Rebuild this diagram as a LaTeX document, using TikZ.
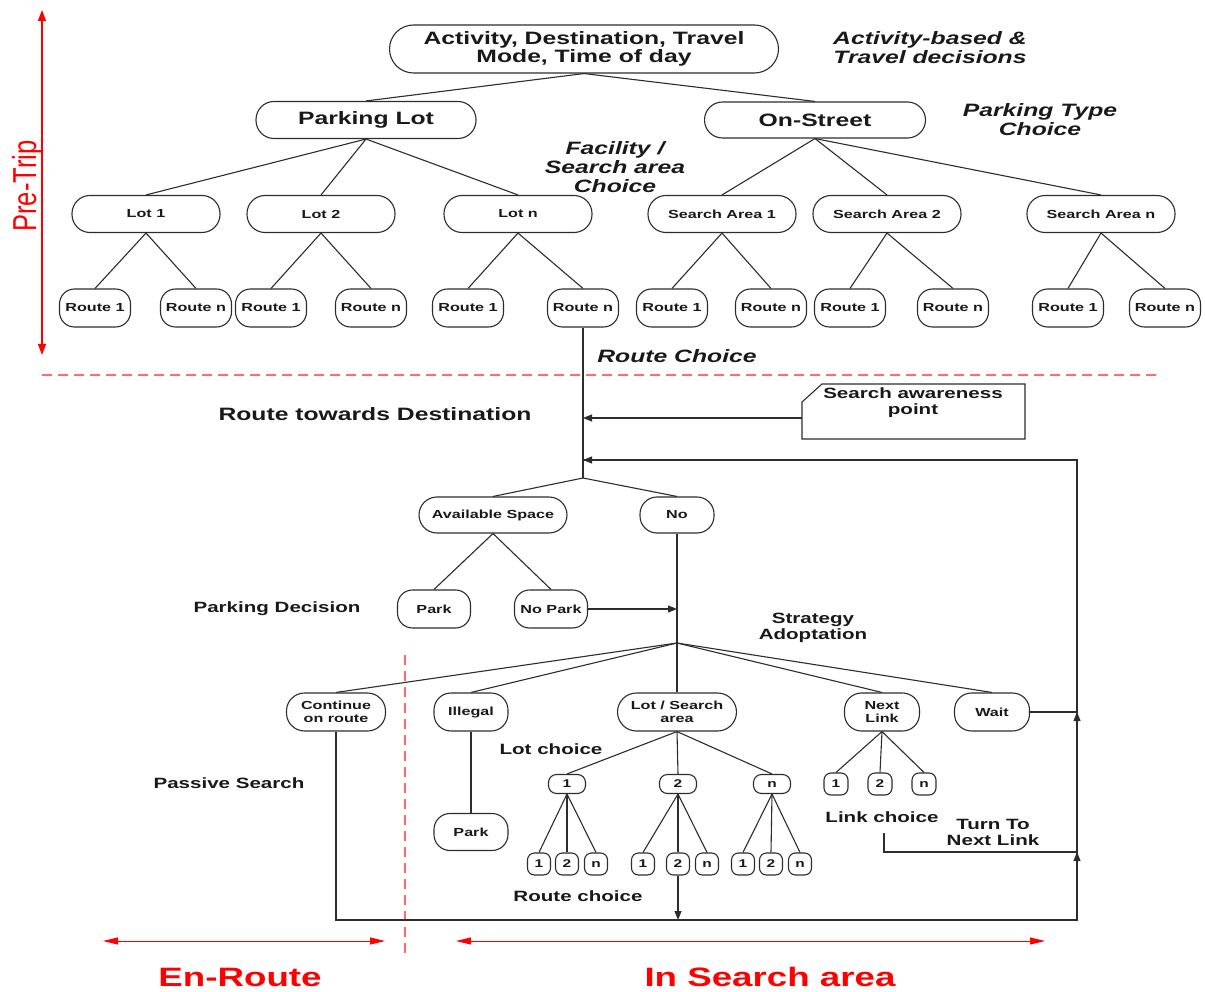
\documentclass[tikz,border=0pt]{standalone}
\usepackage{fontspec}
\setmainfont{Liberation Sans}[FakeStretch=1.38]
\newfontfamily\plainsans{Liberation Sans}
\usetikzlibrary{arrows.meta,calc}
\definecolor{lc}{RGB}{45,45,45}
\definecolor{tc}{RGB}{25,25,25}
\definecolor{rd}{RGB}{255,105,105}
\tikzset{
  nd/.style={draw=lc, line width=1.1pt, align=center, inner sep=1pt, text=tc},
  big/.style={font=\fontsize{17.9}{18.5}\selectfont\bfseries},
  med/.style={font=\fontsize{14.9}{16}\selectfont\bfseries},
  sml/.style={font=\fontsize{11.7}{13}\selectfont\bfseries},
  tny/.style={font=\fontsize{11.2}{12}\selectfont\bfseries},
  itl/.style={font=\fontsize{17.9}{19}\selectfont\bfseries\itshape},
  lab/.style={align=center, text=tc, inner sep=0pt},
  sz/.style n args={3}{minimum width=#1, minimum height=#2, rounded corners=#3},
  lotsz/.style={sz={148pt}{37pt}{18pt}},
  rtsz/.style={sz={71pt}{38pt}{15pt}},
  csz/.style={sz={37pt}{19pt}{8pt}},
  rsz/.style={sz={23pt}{22pt}{7pt}},
  ln/.style={draw=lc, line width=1.1pt},
  arr/.style={ln, -{Triangle[length=9pt,width=7pt]}},
  rarr/.style={draw=red, line width=1pt, {Triangle[length=15pt,width=7pt]}-{Triangle[length=15pt,width=7pt]}},
  parr/.style={draw=red, line width=1.2pt, {Triangle[length=11pt,width=8pt]}-{Triangle[length=11pt,width=8pt]}},
  rdash/.style={draw=rd, line width=1.5pt, dash pattern=on 10pt off 6pt},
  redt/.style={text=red, inner sep=0pt, font=\fontsize{26.6}{28}\selectfont\bfseries}
}
\begin{document}
\begin{tikzpicture}[x=1pt,y=-1pt]
\fill[white] (0,0) rectangle (1205,992);
\useasboundingbox (0,0) rectangle (1205,992);

% ---------- Pre-trip part ----------
\node[nd,big,sz={389pt}{48pt}{24pt}] (top) at (584,49) {Activity, Destination, Travel\\Mode, Time of day};
\node[lab,itl] (lab1) at (930,48) {Activity-based \&\\Travel decisions};
\node[nd,big,sz={220pt}{37pt}{18pt}] (plot) at (366,120) {Parking Lot};
\node[nd,big,sz={221pt}{36pt}{18pt}] (ostr) at (815,120) {On-Street};
\node[lab,itl] (lab2) at (1040,120) {Parking Type\\Choice};
\node[lab,itl] (lab3) at (615,167) {Facility /\\Search area\\Choice};

\node[nd,sml,lotsz] (l1) at (146,214) {Lot 1};
\node[nd,sml,lotsz] (l2) at (321,214) {Lot 2};
\node[nd,sml,lotsz] (ln) at (518,214) {Lot n};
\node[nd,sml,lotsz] (s1) at (722,214) {Search Area 1};
\node[nd,sml,lotsz] (s2) at (887,214) {Search Area 2};
\node[nd,sml,lotsz] (sn) at (1101,214) {Search Area n};

\node[nd,sml,rtsz] (r11) at (95,308) {Route 1};
\node[nd,sml,rtsz] (r1n) at (196,308) {Route n};
\node[nd,sml,rtsz] (r21) at (271,308) {Route 1};
\node[nd,sml,rtsz] (r2n) at (371,308) {Route n};
\node[nd,sml,rtsz] (rn1) at (468,308) {Route 1};
\node[nd,sml,rtsz] (rnn) at (583,308) {Route n};
\node[nd,sml,rtsz] (s11) at (672,308) {Route 1};
\node[nd,sml,rtsz] (s1n) at (771,308) {Route n};
\node[nd,sml,rtsz] (s21) at (850,308) {Route 1};
\node[nd,sml,rtsz] (s2n) at (953,308) {Route n};
\node[nd,sml,rtsz] (sn1) at (1068,308) {Route 1};
\node[nd,sml,rtsz] (snn) at (1165,308) {Route n};
\node[lab,itl] (lab4) at (677,356) {Route Choice};

\draw[ln] (top.south) -- (plot.north);
\draw[ln] (top.south) -- (ostr.north);
\foreach \c in {l1,l2,ln} \draw[ln] (plot.south) -- (\c.north);
\foreach \c in {s1,s2,sn} \draw[ln] (ostr.south) -- (\c.north);
\draw[ln] (l1.south) -- (r11.north); \draw[ln] (l1.south) -- (r1n.north);
\draw[ln] (l2.south) -- (r21.north); \draw[ln] (l2.south) -- (r2n.north);
\draw[ln] (ln.south) -- (rn1.north); \draw[ln] (ln.south) -- (rnn.north);
\draw[ln] (s1.south) -- (s11.north); \draw[ln] (s1.south) -- (s1n.north);
\draw[ln] (s2.south) -- (s21.north); \draw[ln] (s2.south) -- (s2n.north);
\draw[ln] (sn.south) -- (sn1.north); \draw[ln] (sn.south) -- (snn.north);

% ---------- red markers ----------
\coordinate (pt1) at (42,10); \coordinate (pt2) at (42,355);
\draw[parr] (pt1) -- (pt2);
\node[text=red, inner sep=0pt] (pre) at (27.5,186) {\rotatebox{90}{\scalebox{1}[1.3]{\plainsans\fontsize{25.5}{26}\selectfont Pre-Trip}}};
\coordinate (dh1) at (42,375); \coordinate (dh2) at (1160,375);
\draw[rdash] (dh1) -- (dh2);
\coordinate (dv1) at (405,655); \coordinate (dv2) at (405,958);
\draw[rdash] (dv1) -- (dv2);
\coordinate (e1) at (103,941); \coordinate (e2) at (385,941);
\draw[rarr] (e1) -- (e2);
\coordinate (i1) at (456,941); \coordinate (i2) at (1045,941);
\draw[rarr] (i1) -- (i2);
\node[redt] (enr) at (240,977) {En-Route};
\node[redt] (isa) at (770,977) {In Search area};

% ---------- en-route part ----------
\node[lab,big] (lab5) at (375,414) {Route towards Destination};
\node[lab,med] (saptxt) at (913,403) {Search awareness\\point};
\draw[ln] (802,402) -- (822,384) -- (1025,384) -- (1025,439) -- (802,439) -- cycle;
\coordinate (sapL) at (802,418);
\coordinate (a1) at (583,418);
\coordinate (a2) at (583,460);
\coordinate (j1) at (583,478);
\draw[ln] (rnn.south) -- (j1);
\draw[arr] (sapL) -- (a1);

\node[nd,sml,sz={148pt}{36pt}{18pt}] (avs) at (493,515) {Available Space};
\node[nd,sml,sz={74pt}{36pt}{17pt}] (no) at (677,515) {No};
\draw[ln] (j1) -- (avs.north);
\draw[ln] (j1) -- (no.north);
\node[nd,sml,sz={73pt}{38pt}{15pt}] (park1) at (434,609) {Park};
\node[nd,sml,sz={73pt}{38pt}{15pt}] (nopark) at (551,609) {No Park};
\draw[ln] (avs.south) -- (park1.north);
\draw[ln] (avs.south) -- (nopark.north);
\node[lab,med] (lab6) at (277,609) {Parking Decision};
\coordinate (np1) at (677,609);
\coordinate (j2) at (677,643);
\draw[ln] (no.south) -- (j2);
\draw[arr] (nopark.east) -- (np1);
\node[lab,med] (lab7) at (813,628) {Strategy\\Adoptation};

\node[nd,sml,sz={99pt}{38pt}{18pt}] (cont) at (336,712) {Continue\\on route};
\node[nd,sml,sz={74pt}{38pt}{17pt}] (ill) at (471,712) {Illegal};
\node[nd,sml,sz={119pt}{38pt}{19pt}] (lsa) at (677,712) {Lot / Search\\area};
\node[nd,sml,sz={75pt}{38pt}{17pt}] (nl) at (882,712) {Next\\Link};
\node[nd,sml,sz={75pt}{38pt}{17pt}] (wait) at (992,712) {Wait};
\foreach \c in {cont,ill,lsa,nl,wait} \draw[ln] (j2) -- (\c.north);

\node[nd,sml,sz={74pt}{37pt}{16pt}] (park2) at (471,832) {Park};
\draw[ln] (ill.south) -- (park2.north);
\node[lab,med] (lab8) at (229,783) {Passive Search};
\node[lab,med] (lab9) at (551,749) {Lot choice};

\node[nd,tny,csz] (c1) at (567,784) {1};
\node[nd,tny,csz] (c2) at (678,784) {2};
\node[nd,tny,csz] (cn) at (772,784) {n};
\foreach \c in {c1,c2,cn} \draw[ln] (lsa.south) -- (\c.north);

\node[nd,tny,rsz] (c11) at (539,864) {1};
\node[nd,tny,rsz] (c12) at (567,864) {2};
\node[nd,tny,rsz] (c1n) at (596,864) {n};
\node[nd,tny,rsz] (c21) at (643,864) {1};
\node[nd,tny,rsz] (c22) at (678,864) {2};
\node[nd,tny,rsz] (c2n) at (707,864) {n};
\node[nd,tny,rsz] (cn1) at (743,864) {1};
\node[nd,tny,rsz] (cn2) at (771,864) {2};
\node[nd,tny,rsz] (cnn) at (800,864) {n};
\foreach \c in {c11,c12,c1n} \draw[ln] (c1.south) -- (\c.north);
\foreach \c in {c21,c22,c2n} \draw[ln] (c2.south) -- (\c.north);
\foreach \c in {cn1,cn2,cnn} \draw[ln] (cn.south) -- (\c.north);
\node[lab,med] (lab10) at (578,896) {Route choice};

\node[nd,tny,rsz,minimum width=24pt] (k1) at (836,784) {1};
\node[nd,tny,rsz,minimum width=24pt] (k2) at (880,784) {2};
\node[nd,tny,rsz,minimum width=24pt] (kn) at (924,784) {n};
\foreach \c in {k1,k2,kn} \draw[ln] (nl.south) -- (\c.north);
\node[lab,med] (lab11) at (882,817) {Link choice};
\node[lab,med] (lab12) at (993,832) {Turn To\\Next Link};

% ---------- loop ----------
\coordinate (bl) at (336,920);
\coordinate (bm) at (678,920);
\coordinate (lb) at (1077,920);
\coordinate (lr) at (1077,460);
\coordinate (w1) at (1077,712);
\coordinate (w1b) at (1077,735);
\coordinate (t0) at (884,833);
\coordinate (t1) at (884,852);
\coordinate (t2) at (1077,852);
\coordinate (t2b) at (1077,875);
\draw[ln] (cont.south) -- (bl) -- (lb) -- (lr) -- (a2);
\draw[arr] (lr) -- (a2);
\draw[arr] (c22.south) -- (bm);
\draw[ln] (wait.east) -- (w1);
\draw[arr] (w1b) -- (w1);
\draw[ln] (t0) -- (t1) -- (t2);
\draw[arr] (t2b) -- (t2);
\end{tikzpicture}
\end{document}
